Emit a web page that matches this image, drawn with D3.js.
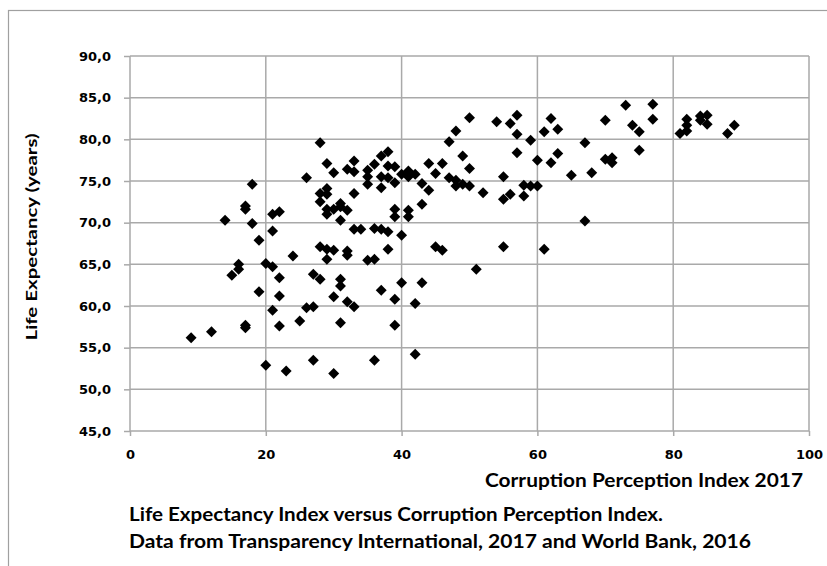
<!DOCTYPE html>
<html>
<head>
<meta charset="utf-8">
<script src="https://cdn.jsdelivr.net/npm/d3@7"></script>
<style>
  body { margin: 0; background: #fff; }
  svg { display: block; }
  .grid line { stroke: #a9a9a9; stroke-width: 1.5; }
  .axis path { display: none; }
  .axis line { stroke: #a9a9a9; stroke-width: 1.5; }
  .axis text { font-family: "DejaVu Sans", Verdana, sans-serif; font-weight: bold; font-size: 13px; fill: #000; }
  .title { font-family: Lato, Calibri, sans-serif; font-weight: bold; fill: #000; }
</style>
</head>
<body>
<div id="chart"></div>
<script>
// Corruption Perception Index 2017 (x) vs life expectancy 2016 (y)
const cpi = [
  9, 12, 14, 15, 16, 16, 17, 17, 17, 17, 18, 18, 19, 19, 20, 20,
  21, 21, 21, 21, 22, 22, 22, 22, 23, 24, 25, 26, 26, 27, 27, 27,
  28, 28, 28, 28, 28, 29, 29, 29, 29, 29, 29, 29, 30, 30, 30, 30, 30,
  31, 31, 31, 31, 31, 31, 32, 32, 32, 32, 32, 33, 33, 33, 33, 33, 34,
  35, 35, 35, 35, 36, 36, 36, 36, 37, 37, 37, 37, 37, 38, 38, 38, 38, 38,
  39, 39, 39, 39, 39, 39, 40, 40, 40, 41, 41, 41, 41, 42, 42, 42,
  43, 43, 43, 44, 44, 45, 45, 46, 46, 47, 47, 48, 48, 48, 49, 49,
  50, 50, 50, 51, 52, 54, 55, 55, 55, 56, 56, 57, 57, 57, 58, 58,
  59, 59, 60, 60, 61, 61, 62, 62, 63, 63, 65, 67, 67, 68, 70, 70,
  71, 71, 73, 74, 75, 75, 77, 77, 81, 82, 82, 82, 84, 84, 85, 85, 88, 89
];
const lifeExp = [
  56.2, 56.9, 70.3, 63.7, 65.0, 64.4, 72.0, 71.6, 57.7, 57.4, 74.6, 69.9, 67.9, 61.7, 65.1, 52.9,
  71.0, 69.0, 64.7, 59.5, 71.3, 63.4, 61.2, 57.6, 52.2, 66.0, 58.2, 75.4, 59.8, 63.8, 59.9, 53.5,
  79.6, 73.5, 72.5, 67.1, 63.2, 77.1, 74.1, 73.4, 71.6, 71.0, 66.8, 65.6, 76.0, 71.6, 66.7, 61.1, 51.9,
  72.3, 71.9, 70.3, 63.2, 62.4, 58.0, 76.4, 71.5, 66.6, 66.1, 60.5, 77.4, 76.1, 73.5, 69.2, 59.9, 69.2,
  76.3, 75.5, 74.6, 65.5, 77.0, 69.3, 65.6, 53.5, 78.0, 75.5, 74.2, 69.2, 61.9, 78.5, 76.8, 75.4, 68.9, 66.8,
  76.7, 74.8, 71.6, 70.7, 60.8, 57.7, 75.8, 68.5, 62.8, 76.2, 75.5, 71.5, 70.7, 75.8, 60.3, 54.2,
  74.7, 72.2, 62.8, 77.1, 73.9, 75.9, 67.1, 66.7, 77.1, 79.7, 75.4, 81.0, 75.1, 74.4, 78.0, 74.6,
  82.6, 76.5, 74.4, 64.4, 73.6, 82.1, 75.5, 72.8, 67.1, 81.9, 73.4, 82.9, 80.6, 78.4, 74.5, 73.2,
  79.9, 74.4, 77.5, 74.4, 80.9, 66.8, 82.5, 77.2, 81.2, 78.3, 75.7, 79.6, 70.2, 76.0, 82.3, 77.6,
  77.8, 77.2, 84.1, 81.7, 80.9, 78.7, 84.2, 82.4, 80.7, 82.4, 81.7, 81.0, 82.8, 82.3, 82.9, 81.8, 80.7, 81.7
];
const xTicks = [0, 20, 40, 60, 80, 100];
const yTicks = [45, 50, 55, 60, 65, 70, 75, 80, 85, 90];
const xTitle = 'Corruption Perception Index 2017';
const yTitle = 'Life Expectancy (years)';
const caption = [
  'Life Expectancy Index versus Corruption Perception Index.',
  'Data from Transparency International, 2017 and World Bank, 2016'
];

const width = 827, height = 566;
const plot = {left: 130, right: 809, top: 56, bottom: 431};

const svg = d3.select('#chart').append('svg')
  .attr('width', width)
  .attr('height', height);

// outer frame of the picture
svg.append('rect')
  .attr('x', 8.5).attr('y', 10.5)
  .attr('width', 840).attr('height', 600)
  .attr('fill', 'none')
  .attr('stroke', '#a0a0a0')
  .attr('stroke-width', 1.2);

const x = d3.scaleLinear().domain([0, 100]).range([plot.left, plot.right]);
const y = d3.scaleLinear().domain([45, 90]).range([plot.bottom, plot.top]);

const locale = d3.formatLocale({decimal: ',', thousands: '.', grouping: [3], currency: ['', '']});
const fmt = locale.format('.1f');

// gridlines
const grid = svg.append('g').attr('class', 'grid');
grid.selectAll('.hline')
  .data(yTicks)
  .enter().append('line')
  .attr('x1', plot.left).attr('x2', plot.right)
  .attr('y1', (d) => y(d)).attr('y2', (d) => y(d));
grid.selectAll('.vline')
  .data(xTicks)
  .enter().append('line')
  .attr('x1', (d) => x(d)).attr('x2', (d) => x(d))
  .attr('y1', plot.top).attr('y2', plot.bottom);

// axes
svg.append('g')
  .attr('class', 'axis')
  .attr('transform', 'translate(' + plot.left + ',0)')
  .call(d3.axisLeft(y).tickValues(yTicks).tickFormat(fmt).tickSize(6).tickPadding(13));
svg.append('g')
  .attr('class', 'axis')
  .attr('transform', 'translate(0,' + plot.bottom + ')')
  .call(d3.axisBottom(x).tickValues(xTicks).tickFormat(d3.format('d')).tickSize(5).tickPadding(14));

// points
const diamond = d3.symbol().type(d3.symbolSquare).size(60);
svg.append('g')
  .selectAll('.pt')
  .data(cpi.map((c, i) => [c, lifeExp[i]]))
  .enter().append('path')
  .attr('class', 'pt')
  .attr('d', diamond)
  .attr('transform', (d) => 'translate(' + x(d[0]) + ',' + y(d[1]) + ') rotate(45)')
  .attr('fill', '#000');

// titles
svg.append('text')
  .attr('class', 'title')
  .attr('x', 803).attr('y', 487)
  .attr('text-anchor', 'end')
  .attr('font-size', 18)
  .attr('textLength', 318)
  .attr('lengthAdjust', 'spacingAndGlyphs')
  .text(xTitle);

svg.append('text')
  .attr('class', 'title')
  .attr('transform', 'translate(37,237) rotate(-90)')
  .attr('text-anchor', 'middle')
  .attr('font-size', 16)
  .attr('textLength', 207)
  .attr('lengthAdjust', 'spacingAndGlyphs')
  .text(yTitle);

const capWidths = [534, 622];
svg.selectAll('.caption')
  .data(caption)
  .enter().append('text')
  .attr('class', 'title caption')
  .attr('x', 129)
  .attr('y', (d, i) => 521 + i * 26.5)
  .attr('font-size', 18)
  .attr('textLength', (d, i) => capWidths[i])
  .attr('lengthAdjust', 'spacingAndGlyphs')
  .text((d) => d);
</script>
</body>
</html>
